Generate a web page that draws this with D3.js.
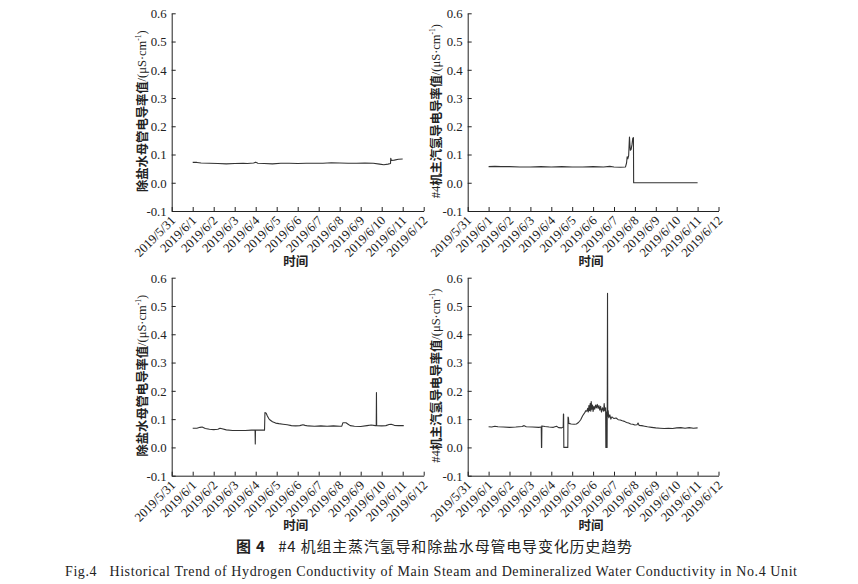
<!DOCTYPE html>
<html><head><meta charset="utf-8">
<script src="https://cdn.jsdelivr.net/npm/d3@7/dist/d3.min.js"></script>
<style>
html,body{margin:0;padding:0;background:#fff;}
svg{display:block;}
</style></head>
<body>
<svg id="chart" width="858" height="584"></svg>
<script>
// ---- Data (day offset from 2019/5/31, value in μS·cm⁻¹) ----
const xTickLabels = ["2019/5/31","2019/6/1","2019/6/2","2019/6/3","2019/6/4","2019/6/5","2019/6/6","2019/6/7","2019/6/8","2019/6/9","2019/6/10","2019/6/11","2019/6/12"];
const yTicks = [-0.1, 0.0, 0.1, 0.2, 0.3, 0.4, 0.5, 0.6];

// Top-left: demineralized water main pipe conductivity (period A)
const deminA = [[1.0,0.072],[1.2,0.072],[1.4,0.070],[1.8,0.069],[2.2,0.068],[2.6,0.067],[3.0,0.068],[3.4,0.069],[3.6,0.068],[3.9,0.070],[4.0,0.073],[4.1,0.069],[4.4,0.068],[4.8,0.067],[5.2,0.069],[5.6,0.069],[6.0,0.068],[6.4,0.069],[6.8,0.069],[7.2,0.069],[7.6,0.071],[8.0,0.070],[8.4,0.069],[8.8,0.069],[9.2,0.070],[9.6,0.069],[9.9,0.066],[10.1,0.064],[10.3,0.066],[10.42,0.068],[10.43,0.087],[10.46,0.079],[10.6,0.080],[10.8,0.083],[11.0,0.084]];

// Top-right: #4 unit main steam hydrogen conductivity (period A)
const steamA = [[1.0,0.057],[1.3,0.058],[1.6,0.057],[2.0,0.057],[2.5,0.056],[3.0,0.056],[3.5,0.057],[4.0,0.056],[4.5,0.057],[5.0,0.056],[5.5,0.056],[6.0,0.057],[6.5,0.056],[6.8,0.058],[7.0,0.056],[7.3,0.055],[7.55,0.056],[7.6,0.070],[7.63,0.092],[7.66,0.085],[7.7,0.095],[7.74,0.162],[7.78,0.115],[7.82,0.118],[7.86,0.135],[7.9,0.158],[7.93,0.160],[7.94,0.0],[8.5,0.0],[9.0,0.0],[10.0,0.0],[11.0,0.0]];

// Bottom-left: demineralized water main pipe conductivity (period B)
const deminB = [[1.0,0.068],[1.2,0.068],[1.35,0.071],[1.45,0.072],[1.6,0.067],[1.8,0.064],[2.0,0.063],[2.2,0.064],[2.3,0.068],[2.4,0.066],[2.6,0.062],[2.9,0.060],[3.2,0.060],[3.5,0.060],[3.8,0.061],[3.97,0.061],[3.98,0.012],[3.99,0.061],[4.2,0.061],[4.42,0.061],[4.44,0.123],[4.5,0.121],[4.55,0.112],[4.62,0.102],[4.7,0.096],[4.8,0.091],[4.95,0.086],[5.1,0.084],[5.3,0.082],[5.5,0.080],[5.7,0.077],[5.9,0.076],[6.1,0.077],[6.25,0.080],[6.35,0.078],[6.5,0.076],[6.8,0.075],[7.1,0.076],[7.4,0.075],[7.7,0.076],[8.0,0.075],[8.1,0.075],[8.15,0.087],[8.3,0.087],[8.4,0.082],[8.5,0.077],[8.7,0.075],[9.0,0.074],[9.3,0.077],[9.5,0.079],[9.7,0.077],[9.74,0.077],[9.75,0.194],[9.76,0.077],[10.0,0.076],[10.2,0.077],[10.35,0.081],[10.45,0.082],[10.6,0.078],[10.8,0.077],[11.0,0.077],[11.05,0.077]];

// Bottom-right: #4 unit main steam hydrogen conductivity (period B)
const steamB = [[1.0,0.073],[1.15,0.072],[1.3,0.075],[1.45,0.073],[1.7,0.072],[2.0,0.071],[2.3,0.072],[2.6,0.074],[2.7,0.077],[2.8,0.073],[3.1,0.072],[3.4,0.071],[3.52,0.072],[3.53,0.0],[3.54,0.0],[3.55,0.076],[3.7,0.074],[3.9,0.072],[4.1,0.071],[4.25,0.075],[4.35,0.070],[4.5,0.069],[4.57,0.072],[4.58,0.118],[4.59,0.118],[4.6,0.0],[4.79,0.0],[4.8,0.107],[4.82,0.105],[4.84,0.085],[4.95,0.083],[5.1,0.082],[5.2,0.083],[5.3,0.088],[5.4,0.097],[5.5,0.112],[5.6,0.123],[5.65,0.130],[5.7,0.128],[5.74,0.138],[5.77,0.125],[5.8,0.148],[5.83,0.130],[5.86,0.155],[5.89,0.128],[5.91,0.162],[5.94,0.135],[5.97,0.150],[6.0,0.127],[6.04,0.145],[6.08,0.135],[6.12,0.150],[6.16,0.140],[6.2,0.152],[6.24,0.138],[6.28,0.148],[6.32,0.132],[6.36,0.145],[6.4,0.125],[6.45,0.140],[6.5,0.128],[6.53,0.155],[6.56,0.130],[6.6,0.140],[6.61,0.0],[6.63,0.0],[6.64,0.125],[6.66,0.0],[6.67,0.0],[6.68,0.220],[6.69,0.545],[6.70,0.110],[6.72,0.130],[6.75,0.105],[6.8,0.115],[6.85,0.100],[6.9,0.108],[7.0,0.102],[7.1,0.104],[7.2,0.098],[7.3,0.097],[7.4,0.094],[7.5,0.092],[7.6,0.088],[7.7,0.086],[7.8,0.083],[7.9,0.082],[8.0,0.079],[8.1,0.080],[8.15,0.086],[8.2,0.078],[8.4,0.076],[8.6,0.073],[8.8,0.071],[9.0,0.069],[9.2,0.068],[9.4,0.067],[9.6,0.068],[9.8,0.067],[10.0,0.069],[10.2,0.070],[10.4,0.068],[10.6,0.070],[10.8,0.068],[11.0,0.069]];

const deminLabel = [{t:"除盐水母管电导率值", cjk:true}];
const steamLabel = [{t:"#4", cjk:false}, {t:"机主汽氢导电导率值", cjk:true}];
const xTitle = "时间";
const caption1Bold = "图 4";
const caption1Rest = "#4 机组主蒸汽氢导和除盐水母管电导变化历史趋势";
const caption2 = "Fig.4   Historical Trend of Hydrogen Conductivity of Main Steam and Demineralized Water Conductivity in No.4 Unit";

// ---- Drawing ----
const svg = d3.select("#chart");
const SERIF = "'Liberation Serif','Times New Roman',serif";
const CJK = "'Noto Sans CJK SC','Noto Sans',sans-serif";

function panel(cfg) {
  const x = d3.scaleLinear().domain([0, 12]).range([cfg.x0, cfg.x1]);
  const y = d3.scaleLinear().domain([-0.1, 0.6]).range([cfg.yB, cfg.yT]);
  const g = svg.append("g");

  const yAxis = g.append("g").attr("transform", `translate(${cfg.x0},0)`)
    .call(d3.axisLeft(y).tickValues(yTicks).tickFormat(d => d.toFixed(1))
      .tickSizeInner(-4).tickSizeOuter(0).tickPadding(5));
  const xAxis = g.append("g").attr("transform", `translate(0,${cfg.yB})`)
    .call(d3.axisBottom(x).tickValues(d3.range(13)).tickFormat(i => xTickLabels[i])
      .tickSizeInner(-4).tickSizeOuter(0).tickPadding(3));

  [yAxis, xAxis].forEach(a => {
    a.select(".domain").attr("stroke", "#222").attr("stroke-width", 1);
    a.selectAll(".tick line").attr("stroke", "#222");
    a.selectAll("text").attr("font-family", SERIF).attr("font-size", 12.8).attr("fill", "#222");
  });
  xAxis.selectAll(".tick text")
    .attr("x", 0).attr("y", 0)
    .attr("text-anchor", "end")
    .attr("dy", "0.35em")
    .attr("transform", "translate(1,7) rotate(-45)");
  yAxis.selectAll(".tick text").attr("dy", "0.34em");

  const line = d3.line().x(d => x(d[0])).y(d => y(d[1]));
  g.append("path").datum(cfg.data).attr("d", line)
    .attr("fill", "none").attr("stroke", "#333").attr("stroke-width", 1.1)
    .attr("stroke-linejoin", "round");

  // y label
  const t = g.append("text")
    .attr("transform", `translate(${cfg.lx},${(cfg.yT + cfg.yB) / 2 - 1}) rotate(-90)`)
    .attr("text-anchor", "middle").attr("dominant-baseline", "central")
    .attr("fill", "#222");
  cfg.label.forEach(p => {
    t.append("tspan").text(p.t)
      .attr("font-family", p.cjk ? CJK : SERIF)
      .attr("font-weight", p.cjk ? 700 : 400)
      .attr("font-size", p.cjk ? 12.3 : 12.5);
  });
  t.append("tspan").text("/(μS·cm").attr("font-family", SERIF).attr("font-size", 12.5);
  t.append("tspan").text("-1").attr("font-family", SERIF).attr("font-size", 7.5).attr("dy", -4);
  t.append("tspan").text(")").attr("font-family", SERIF).attr("font-size", 12.5).attr("dy", 4);

  // x title
  g.append("text").attr("x", (cfg.x0 + cfg.x1) / 2 - 2).attr("y", cfg.yB + 49)
    .attr("text-anchor", "middle").attr("dominant-baseline", "central")
    .attr("font-family", CJK).attr("font-weight", 700).attr("font-size", 12.5)
    .attr("fill", "#222").text(xTitle);
}

panel({x0:171.7, x1:423.7, yT:13.3, yB:211, data:deminA, label:deminLabel, lx:141.7});
panel({x0:467.7, x1:718.5, yT:13.3, yB:211, data:steamA, label:steamLabel, lx:435.7});
panel({x0:171.7, x1:423.7, yT:277.7, yB:475.7, data:deminB, label:deminLabel, lx:141.7});
panel({x0:467.7, x1:718.5, yT:277.7, yB:475.7, data:steamB, label:steamLabel, lx:435.7});

// captions
const c1 = svg.append("text").attr("x", 236).attr("y", 545)
  .attr("dominant-baseline", "central").attr("font-family", CJK).attr("font-size", 15).attr("fill", "#222")
  .attr("textLength", 396).attr("lengthAdjust", "spacing");
c1.append("tspan").text(caption1Bold).attr("font-weight", 700);
c1.append("tspan").text("\u00a0\u00a0\u00a0" + caption1Rest);

svg.append("text").attr("x", 65).attr("y", 571)
  .attr("dominant-baseline", "central").attr("font-family", SERIF).attr("font-size", 14)
  .attr("fill", "#222").attr("textLength", 732).attr("lengthAdjust", "spacing")
  .attr("xml:space", "preserve").style("white-space", "pre").text(caption2);
</script>
</body></html>
